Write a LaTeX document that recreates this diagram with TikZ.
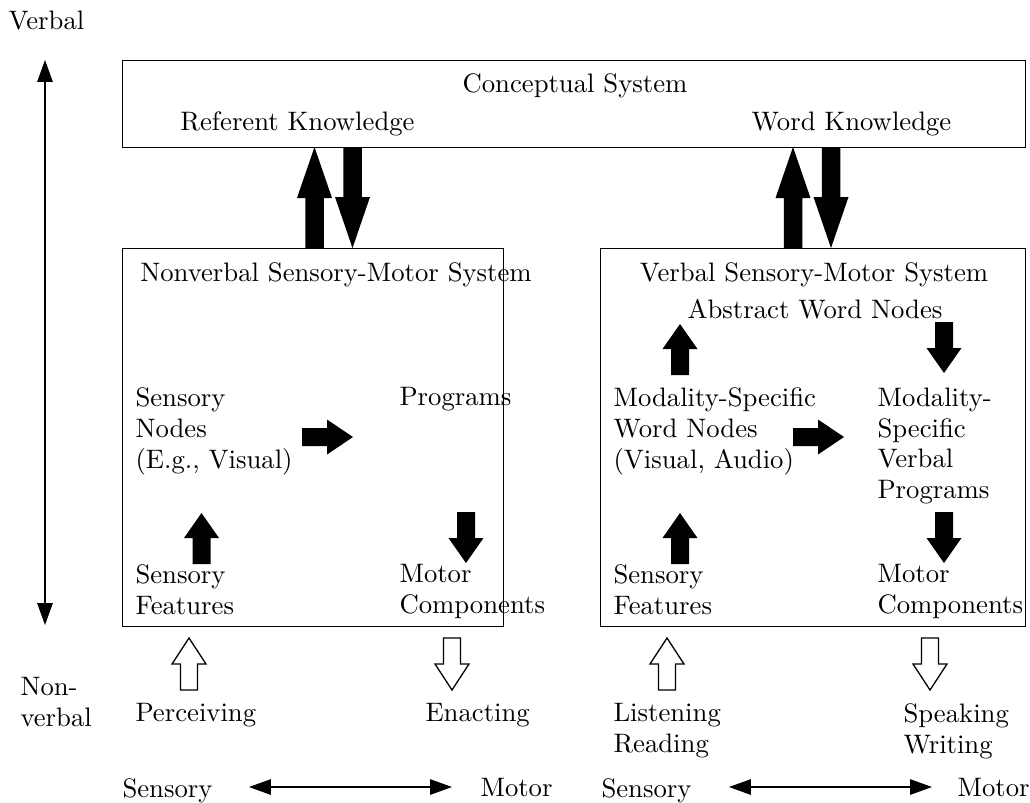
\documentclass[tikz,border=0pt]{standalone}
\usetikzlibrary{arrows.meta}
\newlength\pxu \setlength\pxu{0.3876pt}
\tikzset{
  box/.style={draw, line width=0.5pt, anchor=north west, inner sep=0pt},
  tl/.style={inner sep=0pt, anchor=north west, align=left},
  tc/.style={inner sep=0pt, anchor=north, align=center},
  thinarrow/.style={line width=0.5pt, {Triangle[length=8.5pt,width=6pt]}-{Triangle[length=8.5pt,width=6pt]}},
  blackarrow/.style={fill=black},
  whitearrow/.style={draw=black, fill=white, line width=0.5pt, line join=miter},
  pics/fatarrow/.style n args={4}{code={%
    \path[pic actions] (0,-#2) -- ({#1-#4},-#2) -- ({#1-#4},-#3) -- (#1,0)
      -- ({#1-#4},#3) -- ({#1-#4},#2) -- (0,#2) -- cycle;}},
}
\begin{document}
\begin{tikzpicture}[x=0.3876pt,y=-0.3876pt, font=\fontsize{10.35}{12}\selectfont]
\useasboundingbox (0,0) rectangle (1030,802);

% boxes
\node[box, minimum width=903\pxu, minimum height=87\pxu] (cs) at (122,60) {};
\node[box, minimum width=381\pxu, minimum height=378\pxu] (nv) at (122,248) {};
\node[box, minimum width=425\pxu, minimum height=378\pxu] (vsm) at (600,248) {};

% texts
\node[tl] (verbal) at (8,10) {Verbal};
\node[tc] (cstitle) at (575,73) {Conceptual System};
\node[tc] (refk) at (297.5,111) {Referent Knowledge};
\node[tc] (wordk) at (851.5,111) {Word Knowledge};
\node[tc] (nvtitle) at (336,262) {Nonverbal Sensory-Motor System};
\node[tc] (vbtitle) at (814,262) {Verbal Sensory-Motor System};
\node[tc] (awn) at (815,299) {Abstract Word Nodes};
\node[tl] (snodes) at (135,387) {Sensory\\Nodes\\(E.g., Visual)};
\node[tl] (prog) at (399,387) {Programs};
\node[tl] (sfeat1) at (135,564) {Sensory\\Features};
\node[tl] (mcomp1) at (399,564) {Motor\\Components};
\node[tl] (mswn) at (613,387) {Modality-Specific\\Word Nodes\\(Visual, Audio)};
\node[tl] (msvp) at (877,387) {Modality-\\Specific\\Verbal\\Programs};
\node[tl] (sfeat2) at (613,564) {Sensory\\Features};
\node[tl] (mcomp2) at (877,564) {Motor\\Components};
\node[tl] (perc) at (135,703) {Perceiving};
\node[tl] (enact) at (425,703) {Enacting};
\node[tl] (listen) at (613,703) {Listening\\Reading};
\node[tl] (speak) at (903,703) {Speaking\\Writing};
\node[tl] (nonverbal) at (20,677) {Non-\\verbal};
\node[tl] (sens1) at (122,778) {Sensory};
\node[tl] (mot1) at (480,778) {Motor};
\node[tl] (sens2) at (601,778) {Sensory};
\node[tl] (mot2) at (957,778) {Motor};

% thin arrows
\coordinate (vtop) at (45,60);
\coordinate (vbot) at (45,625);
\draw[thinarrow] (vtop) -- (vbot);
\coordinate (b1l) at (249,787);
\coordinate (b1r) at (452,787);
\coordinate (b2l) at (729,787);
\coordinate (b2r) at (932,787);
\draw[thinarrow] (b1l) -- (b1r);
\draw[thinarrow] (b2l) -- (b2r);

% big black arrows between systems
\pic[blackarrow, rotate=90]  (a1) at (314.5,248) {fatarrow={101}{9.25}{17.5}{51}};
\pic[blackarrow, rotate=-90] (a2) at (352.5,147) {fatarrow={101}{9.25}{17.5}{51}};
\pic[blackarrow, rotate=90]  (a3) at (793,248) {fatarrow={101}{9.25}{17.5}{51}};
\pic[blackarrow, rotate=-90] (a4) at (831,147) {fatarrow={101}{9.25}{17.5}{51}};

% medium black arrows
\pic[blackarrow, rotate=90]  (m1) at (201.5,564) {fatarrow={51}{9}{17.5}{25}};
\pic[blackarrow, rotate=-90] (m2) at (466,512) {fatarrow={51}{9}{17.5}{25}};
\pic[blackarrow, rotate=0]   (m3) at (302,437) {fatarrow={51}{9}{17.5}{26}};
\pic[blackarrow, rotate=90]  (m4) at (680,375) {fatarrow={51}{9}{17.5}{25}};
\pic[blackarrow, rotate=-90] (m5) at (944,322) {fatarrow={51}{9}{17.5}{25}};
\pic[blackarrow, rotate=0]   (m6) at (793,437) {fatarrow={51}{9}{17.5}{26}};
\pic[blackarrow, rotate=90]  (m7) at (680,564) {fatarrow={51}{9}{17.5}{25}};
\pic[blackarrow, rotate=-90] (m8) at (944,512) {fatarrow={51}{9}{17.5}{25}};

% white outline arrows
\pic[whitearrow, rotate=90]  (w1) at (189,690) {fatarrow={52}{8.5}{17}{26}};
\pic[whitearrow, rotate=-90] (w2) at (452,638) {fatarrow={52}{8.5}{17}{26}};
\pic[whitearrow, rotate=90]  (w3) at (667,690) {fatarrow={52}{8.5}{17}{26}};
\pic[whitearrow, rotate=-90] (w4) at (930,638) {fatarrow={52}{8.5}{17}{26}};
\end{tikzpicture}
\end{document}
